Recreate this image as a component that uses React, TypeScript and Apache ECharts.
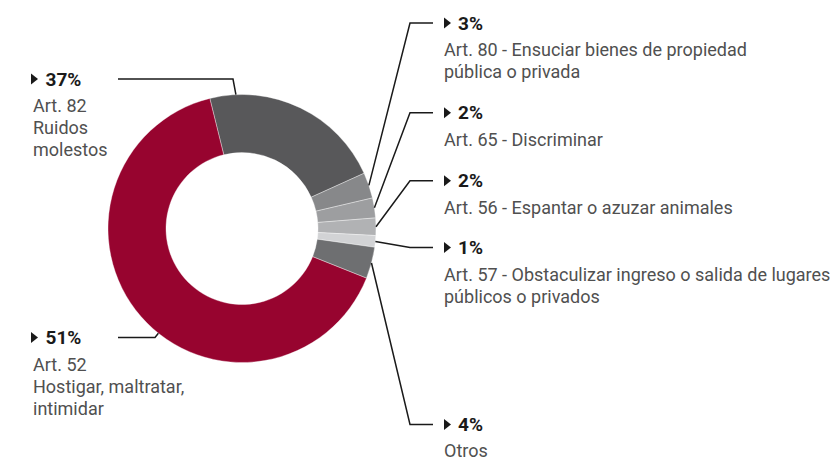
import React, { useEffect, useRef } from "react";
import * as echarts from "echarts";

// ---- data ----
const categories = [
  "Art. 82 Ruidos molestos",
  "Art. 80 Ensuciar bienes",
  "Art. 65 Discriminar",
  "Art. 56 Espantar o azuzar animales",
  "Art. 57 Obstaculizar ingreso",
  "Otros",
  "Art. 52 Hostigar, maltratar, intimidar",
];
// share of the ring each slice occupies in the picture
const arcShares = [22.1, 3.1, 2.4, 2.1, 1.4, 3.8, 65.1];
// printed percentages
const pctLabels = ["37%", "3%", "2%", "2%", "1%", "4%", "51%"];
const descLabels = [
  ["Art. 82", "Ruidos", "molestos"],
  ["Art. 80 - Ensuciar bienes de propiedad", "pública o privada"],
  ["Art. 65 - Discriminar"],
  ["Art. 56 - Espantar o azuzar animales"],
  ["Art. 57 - Obstaculizar ingreso o salida de lugares", "públicos o privados"],
  ["Otros"],
  ["Art. 52", "Hostigar, maltratar,", "intimidar"],
];

// ---- styles / layout ----
const colors = ["#58585a", "#87888a", "#9d9ea0", "#b1b2b4", "#d2d3d5", "#6e6f71", "#97042f"];
const CX = 242;
const CY = 228.5;
const R0 = 76;
const R1 = 134;
const START_ANGLE = 103.9;
const FONT = "Roboto, 'Noto Sans', sans-serif";

type Place = { side: "left" | "right"; y: number; elbowX: number; endX: number; anchorAt: number; descGap: number };
const places: Place[] = [
  { side: "left", y: 79, elbowX: 233, endX: 118, anchorAt: 0.142, descGap: 26 },
  { side: "right", y: 23, elbowX: 410, endX: 433, anchorAt: 0.5, descGap: 26.5 },
  { side: "right", y: 112.7, elbowX: 410, endX: 433, anchorAt: 0.5, descGap: 26.5 },
  { side: "right", y: 180.7, elbowX: 410, endX: 433, anchorAt: 0.5, descGap: 26.5 },
  { side: "right", y: 247.5, elbowX: 410, endX: 433, anchorAt: 0.5, descGap: 26.5 },
  { side: "right", y: 424.5, elbowX: 410, endX: 433, anchorAt: 0.5, descGap: 25.5 },
  { side: "left", y: 337.5, elbowX: 155, endX: 118, anchorAt: 0.456, descGap: 26.5 },
];

export default function App() {
  const ref = useRef<HTMLDivElement>(null);
  useEffect(() => {
    if (!ref.current) return;
    const chart = echarts.init(ref.current, null, { renderer: "svg" });
    chart.setOption({
      animation: false,
      backgroundColor: "#ffffff",
      series: [
        {
          type: "pie",
          center: [CX, CY],
          radius: [R0, R1],
          startAngle: START_ANGLE,
          clockwise: true,
          avoidLabelOverlap: false,
          label: { show: false },
          labelLine: { show: false },
          emphasis: { disabled: true },
          itemStyle: { borderColor: "rgba(255,255,255,0.6)", borderWidth: 0.6 },
          data: categories.map((name, i) => ({
            name,
            value: arcShares[i],
            itemStyle: { color: colors[i] },
          })),
        },
      ],
    });

    // anchor points from the library's own slice layout
    const anchors: number[][] = [];
    let layouts: any[] = [];
    try {
      const data = (chart as any).getModel().getSeriesByIndex(0).getData();
      layouts = categories.map((_, i) => data.getItemLayout(i));
    } catch (e) {
      layouts = [];
    }
    const total = arcShares.reduce((a, b) => a + b, 0);
    let acc = 0;
    categories.forEach((_, i) => {
      const l = layouts[i];
      let a: number, cx: number, cy: number, r: number;
      if (l && l.startAngle != null) {
        a = l.startAngle + (l.endAngle - l.startAngle) * places[i].anchorAt;
        cx = l.cx; cy = l.cy; r = l.r;
      } else {
        const s = (-START_ANGLE * Math.PI) / 180 + (acc / total) * 2 * Math.PI;
        const e = s + (arcShares[i] / total) * 2 * Math.PI;
        a = s + (e - s) * places[i].anchorAt;
        cx = CX; cy = CY; r = R1;
      }
      acc += arcShares[i];
      anchors.push([cx + r * Math.cos(a), cy + r * Math.sin(a)]);
    });

    const graphics: any[] = [];
    places.forEach((p, i) => {
      graphics.push({
        type: "polyline",
        silent: true,
        z: 10,
        shape: { points: [anchors[i], [p.elbowX, p.y], [p.endX, p.y]] },
        style: { stroke: "#1a1a1a", lineWidth: 1.5, fill: null },
      });
      const tx = p.side === "right" ? 444 : 31;
      graphics.push({
        type: "polygon",
        silent: true,
        shape: { points: [[tx, p.y - 5.5], [tx + 7, p.y], [tx, p.y + 5.5]] },
        style: { fill: "#1a1a1a" },
      });
      graphics.push({
        type: "text",
        silent: true,
        x: p.side === "right" ? 458 : 45.5,
        y: p.y,
        style: {
          text: pctLabels[i],
          fontFamily: FONT,
          fontSize: 19,
          fontWeight: "bold",
          fill: "#1a1a1a",
          align: "left",
          verticalAlign: "middle",
        },
      });
      descLabels[i].forEach((line, k) => {
        graphics.push({
          type: "text",
          silent: true,
          x: p.side === "right" ? 444 : 33,
          y: p.y + p.descGap + k * 22,
          style: {
            text: line,
            fontFamily: FONT,
            fontSize: 18,
            lineHeight: 18,
            fill: "#505050",
            align: "left",
            verticalAlign: "middle",
          },
        });
      });
    });
    chart.setOption({ graphic: graphics });

    return () => chart.dispose();
  }, []);
  return (
    <div
      ref={ref}
      style={{ position: "fixed", left: 0, top: 0, width: 840, height: 460, background: "#fff" }}
    />
  );
}
